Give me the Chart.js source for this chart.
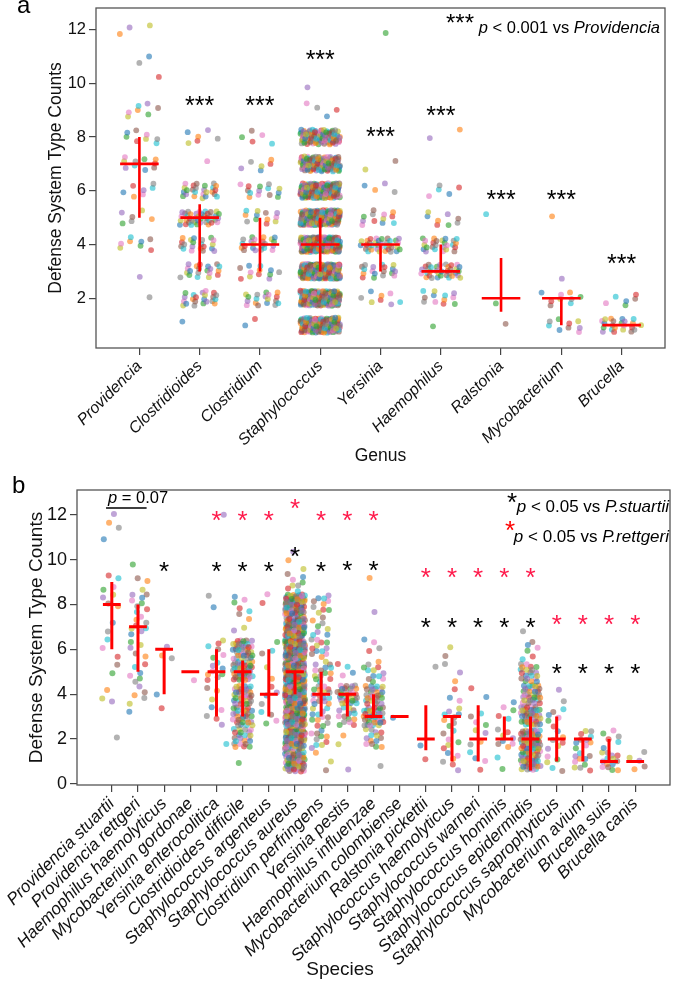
<!DOCTYPE html>
<html>
<head>
<meta charset="utf-8">
<script src="https://cdn.jsdelivr.net/npm/chart.js@4.4.1/dist/chart.umd.min.js"></script>
<style>
  html, body { margin: 0; padding: 0; background: #fff; }
  #wrap { position: relative; width: 674px; height: 992px; }
  canvas { position: absolute; left: 0; }
  #chartA { top: 0; }
  #chartB { top: 470px; }
</style>
</head>
<body>
<div id="wrap">
  <canvas id="chartA" width="674" height="470"></canvas>
  <canvas id="chartB" width="674" height="522"></canvas>
</div>
<script>
// ---- panel a: genus ----
const genera = ['Providencia', 'Clostridioides', 'Clostridium', 'Staphylococcus', 'Yersinia',
  'Haemophilus', 'Ralstonia', 'Mycobacterium', 'Brucella'];
// number of genomes at each count value 1..12
const genusCounts = [
  [0, 1, 1, 8, 6, 7, 10, 8, 7, 1, 2, 3],
  [1, 22, 20, 20, 40, 25, 1, 6, 0, 0, 0, 0],
  [2, 18, 12, 22, 12, 14, 6, 5, 0, 0, 0, 0],
  [150, 200, 230, 250, 220, 180, 110, 90, 4, 1, 0, 0],
  [0, 8, 18, 35, 12, 4, 2, 0, 0, 0, 0, 1],
  [1, 12, 35, 25, 8, 5, 0, 2, 0, 0, 0, 0],
  [1, 1, 0, 0, 1, 0, 0, 0, 0, 0, 0, 0],
  [9, 9, 1, 0, 1, 0, 0, 0, 0, 0, 0, 0],
  [22, 6, 0, 0, 0, 0, 0, 0, 0, 0, 0, 0]
];
const genusMedian = [7, 5, 4, 4, 4, 3, 2, 2, 1];
const genusQ1 = [5, 3, 3, 3, 3, 3, 1.5, 1, 1];
const genusQ3 = [8, 5.5, 5, 5, 4, 4, 3.5, 2, 1];
const genusStarY = [null, 9.4, 9.4, 11.1, 8.25, 9.0, 5.9, 5.9, 3.5];
const genusYTicks = [2, 4, 6, 8, 10, 12];

// ---- panel b: species ----
const species = ['Providencia stuartii', 'Providencia rettgeri', 'Haemophilus haemolyticus',
  'Mycobacterium gordonae', 'Yersinia enterocolitica', 'Clostridioides difficile',
  'Staphylococcus argenteus', 'Staphylococcus aureus', 'Clostridium perfringens',
  'Yersinia pestis', 'Haemophilus influenzae', 'Mycobacterium colombiense',
  'Ralstonia pickettii', 'Staphylococcus haemolyticus', 'Staphylococcus warneri',
  'Staphylococcus hominis', 'Staphylococcus epidermidis', 'Staphylococcus saprophyticus',
  'Mycobacterium avium', 'Brucella suis', 'Brucella canis'];
const speciesCounts = [
  [0, 1, 0, 3, 2, 3, 2, 4, 4, 0, 2, 2],
  [0, 0, 1, 5, 6, 5, 8, 8, 3, 1, 0, 0],
  [0, 0, 1, 1, 0, 3, 0, 0, 0, 0, 0, 0],
  [0, 0, 0, 0, 1, 0, 0, 0, 0, 0, 0, 0],
  [0, 1, 5, 3, 8, 6, 0, 2, 0, 0, 0, 1],
  [1, 22, 28, 30, 40, 35, 3, 6, 0, 0, 0, 0],
  [0, 0, 4, 4, 2, 3, 0, 2, 0, 0, 0, 0],
  [60, 80, 110, 130, 140, 120, 90, 80, 8, 3, 0, 0],
  [3, 10, 12, 16, 14, 12, 8, 10, 0, 0, 0, 0],
  [1, 2, 14, 28, 4, 0, 0, 0, 0, 0, 0, 0],
  [1, 14, 35, 25, 12, 4, 0, 1, 1, 0, 0, 0],
  [0, 0, 1, 0, 0, 0, 0, 0, 0, 0, 0, 0],
  [1, 1, 0, 0, 1, 0, 0, 0, 0, 0, 0, 0],
  [6, 6, 8, 3, 3, 2, 0, 0, 0, 0, 0, 0],
  [4, 4, 4, 2, 0, 0, 0, 0, 0, 0, 0, 0],
  [2, 8, 4, 1, 0, 0, 0, 0, 0, 0, 0, 0],
  [40, 50, 40, 30, 20, 6, 1, 0, 0, 0, 0, 0],
  [5, 6, 6, 2, 0, 0, 0, 0, 0, 0, 0, 0],
  [10, 10, 0, 0, 0, 0, 0, 0, 0, 0, 0, 0],
  [14, 6, 0, 0, 0, 0, 0, 0, 0, 0, 0, 0],
  [5, 0, 0, 0, 0, 0, 0, 0, 0, 0, 0, 0]
];
const speciesMedian = [8, 7, 6, 5, 5, 5, 4, 5, 4, 4, 3, 3, 2, 3, 2, 2, 2, 2, 2, 1, 1];
const speciesQ1 = [6, 5, 4, 5, 3, 3, 3, 4, 3, 3, 3, 3, 1.5, 1, 1, 2, 0.6, 1, 1, 1, 1];
const speciesQ3 = [9, 8, 6, 5, 6, 5.5, 6, 5, 5, 4, 4, 3, 3.5, 3, 3.5, 3, 3, 3, 2, 2, 1];
// * p < 0.05 vs P.stuartii (black) and vs P.rettgeri (red)
const speciesStarBlackY = [null, null, 9.75, null, 9.75, 9.75, 9.75, 10.4, 9.75, 9.8, 9.8, null,
  7.27, 7.27, 7.27, 7.27, 7.27, 5.2, 5.2, 5.2, 5.2];
const speciesStarRedY = [null, null, null, null, 12, 12, 12, 12.57, 12, 12, 12, null,
  9.46, 9.46, 9.46, 9.46, 9.46, 7.4, 7.4, 7.4, 7.4];
const speciesYTicks = [0, 2, 4, 6, 8, 10, 12];

const FONT = '"Liberation Sans", Arial, Helvetica, sans-serif';
const palette = ['31,119,180', '255,127,14', '44,160,44', '214,39,40', '148,103,189',
  '140,86,75', '227,119,194', '127,127,127', '188,189,34', '23,190,207'];

// strip plot: each genome sits on its integer value, spread by a fixed low-discrepancy jitter
function buildPoints(counts, wx, wy) {
  const pts = [], cols = [];
  counts.forEach((row, c) => {
    let k = 0;
    row.forEach((n, li) => {
      for (let j = 0; j < n; j++) {
        k++;
        const jx = ((k * 0.7548776662 + c * 0.31) % 1) - 0.5;
        const jy = ((k * 0.5698402910 + c * 0.17) % 1) - 0.5;
        pts.push({ x: c + jx * 2 * wx, y: li + 1 + jy * 2 * wy });
        cols.push('rgba(' + palette[(k * 7 + c * 3) % 10] + ',0.6)');
      }
    });
  });
  return { pts, cols };
}

function buildCrosses(median, q1, q3, hw) {
  const d = [];
  median.forEach((m, i) => {
    d.push({ x: i - hw, y: m }, { x: i + hw, y: m }, { x: i, y: null });
    if (q1[i] !== q3[i]) d.push({ x: i, y: q1[i] }, { x: i, y: q3[i] }, { x: i, y: null });
  });
  return d;
}

function drawRich(ctx, parts, x, yBase, size, align) {
  let w = 0;
  parts.forEach(p => { ctx.font = (p[1] ? 'italic ' : '') + size + 'px ' + FONT; w += ctx.measureText(p[0]).width; });
  let xx = align === 'right' ? x - w : (align === 'center' ? x - w / 2 : x);
  ctx.textAlign = 'left';
  ctx.textBaseline = 'alphabetic';
  parts.forEach(p => {
    ctx.font = (p[1] ? 'italic ' : '') + size + 'px ' + FONT;
    ctx.fillText(p[0], xx, yBase);
    xx += ctx.measureText(p[0]).width;
  });
}

function drawStars(chart, ys, text, color, size) {
  const { ctx, scales } = chart;
  ctx.save();
  ctx.font = size + 'px ' + FONT;
  ctx.fillStyle = color;
  ctx.textAlign = 'center';
  ctx.textBaseline = 'alphabetic';
  ys.forEach((v, i) => {
    if (v == null) return;
    ctx.fillText(text, scales.x.getPixelForValue(i), scales.y.getPixelForValue(v) + 0.57 * size);
  });
  ctx.restore();
}

function drawFrame(chart) {
  const { ctx, chartArea: a } = chart;
  ctx.save();
  ctx.strokeStyle = '#555';
  ctx.lineWidth = 1.3;
  ctx.strokeRect(a.left, a.top, a.right - a.left, a.bottom - a.top);
  ctx.restore();
}

function makeScales(cfg) {
  return {
    x: {
      type: 'linear', bounds: 'data', min: cfg.xMin, max: cfg.xMax,
      afterBuildTicks: s => { s.ticks = cfg.names.map((n, i) => ({ value: i })); },
      afterFit: s => { s.height = cfg.xHeight; s.paddingLeft = 0; s.paddingRight = 0; s.paddingTop = 0; s.paddingBottom = 0; },
      grid: { drawOnChartArea: false, drawTicks: true, tickLength: 7, color: '#444', lineWidth: 1.2 },
      border: { display: false },
      ticks: {
        autoSkip: false, minRotation: 45, maxRotation: 45, padding: 2, color: '#111',
        font: { family: FONT, size: cfg.xFont, style: 'italic' },
        callback: (v, i) => cfg.names[i]
      },
      title: { display: cfg.xTitle !== '', text: cfg.xTitle, color: '#111', font: { family: FONT, size: cfg.titleFont },
        padding: { top: 0, bottom: cfg.xTitlePad } }
    },
    y: {
      type: 'linear', bounds: 'data', min: cfg.yMin, max: cfg.yMax,
      afterBuildTicks: s => { s.ticks = cfg.yTicks.map(v => ({ value: v })); },
      afterFit: s => { s.width = cfg.yWidth; s.paddingLeft = 0; s.paddingRight = 0; s.paddingTop = 0; s.paddingBottom = 0; },
      grid: { drawOnChartArea: false, drawTicks: true, tickLength: 7, color: '#444', lineWidth: 1.2 },
      border: { display: false },
      ticks: { padding: 3, color: '#111', font: { family: FONT, size: cfg.yFont }, callback: v => String(v) },
      title: { display: true, text: 'Defense System Type Counts', color: '#111',
        font: { family: FONT, size: cfg.titleFont }, padding: { top: cfg.yTitlePad, bottom: 0 } }
    }
  };
}

// ---- chart a ----
const ptsA = buildPoints(genusCounts, 0.33, 0.28);
new Chart(document.getElementById('chartA'), {
  type: 'scatter',
  data: {
    datasets: [{
      type: 'line',
      data: buildCrosses(genusMedian, genusQ1, genusQ3, 0.32),
      borderColor: '#ff0000', borderWidth: 2.6, pointRadius: 0, spanGaps: false, fill: false
    }, {
      data: ptsA.pts,
      backgroundColor: ptsA.cols, borderWidth: 0, pointRadius: 2.9
    }]
  },
  options: {
    responsive: false, animation: false, events: [],
    layout: { padding: { left: 0, right: 9, top: 8, bottom: 0 } },
    plugins: { legend: { display: false }, tooltip: { enabled: false } },
    scales: makeScales({
      names: genera, xMin: -0.72, xMax: 8.72, yMin: 0.15, yMax: 12.8, yTicks: genusYTicks,
      xHeight: 122, yWidth: 96, xFont: 16, yFont: 16.5, titleFont: 17.5,
      xTitle: 'Genus', xTitlePad: 3, yTitlePad: 46
    })
  },
  plugins: [{
    id: 'decorA',
    afterDatasetsDraw(chart) {
      drawFrame(chart);
      drawStars(chart, genusStarY, '***', '#000', 25);
      const ctx = chart.ctx;
      ctx.save();
      ctx.fillStyle = '#000';
      ctx.font = '24px ' + FONT;
      ctx.textAlign = 'left';
      ctx.fillText('***', 446, 31);
      drawRich(ctx, [['p', true], [' < 0.001 vs ', false], ['Providencia', true]], 660, 33, 16.5, 'right');
      ctx.font = '24px ' + FONT;
      ctx.fillText('a', 17, 13);
      ctx.restore();
    }
  }]
});

// ---- chart b ----
const ptsB = buildPoints(speciesCounts, 0.38, 0.45);
new Chart(document.getElementById('chartB'), {
  type: 'scatter',
  data: {
    datasets: [{
      type: 'line',
      data: buildCrosses(speciesMedian, speciesQ1, speciesQ3, 0.34),
      borderColor: '#ff0000', borderWidth: 3, pointRadius: 0, spanGaps: false, fill: false
    }, {
      data: ptsB.pts,
      backgroundColor: ptsB.cols, borderWidth: 0, pointRadius: 3
    }]
  },
  options: {
    responsive: false, animation: false, events: [],
    layout: { padding: { left: 0, right: 2, top: 20, bottom: 0 } },
    plugins: { legend: { display: false }, tooltip: { enabled: false } },
    scales: makeScales({
      names: species, xMin: -1.33, xMax: 21.33, yMin: -0.05, yMax: 13.1, yTicks: speciesYTicks,
      xHeight: 207, yWidth: 77, xFont: 17, yFont: 18, titleFont: 19,
      xTitle: '', xTitlePad: 11, yTitlePad: 25
    })
  },
  plugins: [{
    id: 'decorB',
    afterDatasetsDraw(chart) {
      drawFrame(chart);
      drawStars(chart, speciesStarRedY, '*', '#ff1a4b', 26);
      drawStars(chart, speciesStarBlackY, '*', '#000', 26);
      const { ctx, scales } = chart;
      ctx.save();
      // p = 0.07 bracket between the two Providencia species
      const by = scales.y.getPixelForValue(12.3);
      ctx.strokeStyle = '#000';
      ctx.lineWidth = 1.5;
      ctx.beginPath();
      ctx.moveTo(scales.x.getPixelForValue(-0.22), by);
      ctx.lineTo(scales.x.getPixelForValue(1.33), by);
      ctx.stroke();
      ctx.fillStyle = '#000';
      drawRich(ctx, [['p', true], [' = 0.07', false]], 108, 33, 16.5, 'left');
      // legend
      ctx.font = '26px ' + FONT;
      ctx.textAlign = 'center';
      ctx.fillStyle = '#000';
      ctx.fillText('*', 512, 41);
      ctx.fillStyle = '#ff0000';
      ctx.fillText('*', 510, 69);
      ctx.fillStyle = '#000';
      drawRich(ctx, [['p', true], [' < 0.05 vs ', false], ['P.stuartii', true]], 669, 42, 17, 'right');
      drawRich(ctx, [['p', true], [' < 0.05 vs ', false], ['P.rettgeri', true]], 669, 72, 17, 'right');
      // x-axis title, centred on the figure as in the original
      ctx.font = '19px ' + FONT;
      ctx.textAlign = 'center';
      ctx.textBaseline = 'middle';
      ctx.fillStyle = '#111';
      ctx.fillText('Species', 340, 500);
      ctx.textAlign = 'left';
      ctx.textBaseline = 'alphabetic';
      ctx.font = '24px ' + FONT;
      ctx.fillStyle = '#000';
      ctx.fillText('b', 12, 23);
      ctx.restore();
    }
  }]
});
</script>
</body>
</html>
